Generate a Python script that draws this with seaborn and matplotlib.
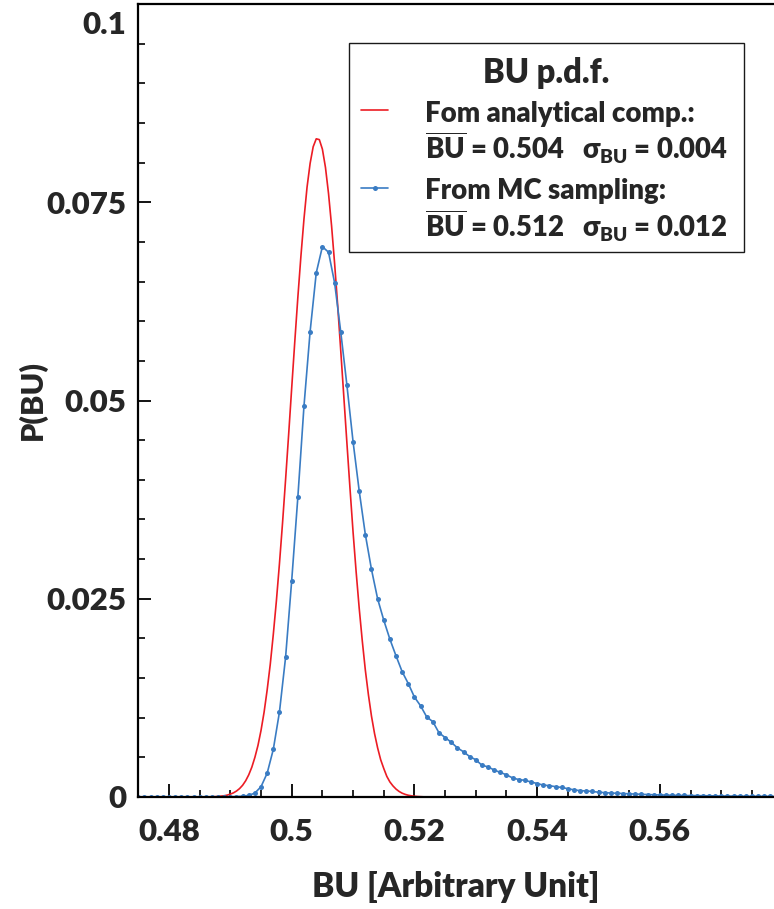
import numpy as np
import pandas as pd
import matplotlib
matplotlib.use("Agg")
import matplotlib.pyplot as plt
import seaborn as sns
from matplotlib.lines import Line2D
from matplotlib.patches import Rectangle
from matplotlib.ticker import FixedLocator, FixedFormatter, MultipleLocator
from matplotlib.transforms import offset_copy

# BU p.d.f. from the analytical computation (red), one value per 0.0005 step starting at 0.486
red_start = 0.486
red_step = 0.0005
red_y = [0.00001, 0.00002, 0.00003, 0.00004, 0.00007, 0.00011, 0.00016, 0.00024, 0.00036, 0.00052,
         0.00075, 0.00106, 0.00148, 0.00205, 0.0028, 0.00376, 0.0050, 0.0065, 0.0084, 0.0107,
         0.0135, 0.0167, 0.0205, 0.0247, 0.0294, 0.0345, 0.0400, 0.0457, 0.0516, 0.0574,
         0.0630, 0.0682, 0.0729, 0.0769, 0.0799, 0.0820, 0.0830, 0.0829, 0.0817, 0.0794,
         0.0761, 0.0720, 0.0672, 0.0619, 0.0562, 0.0504, 0.0446, 0.0389, 0.0334, 0.0284,
         0.0238, 0.0197, 0.0160, 0.0129, 0.0102, 0.0080, 0.0062, 0.0047, 0.0036, 0.0026,
         0.0019, 0.0014, 0.0010, 0.0007, 0.00048, 0.00033, 0.00022, 0.00015, 0.0001, 0.00006,
         0.00004, 0.00002, 0.00001]

# BU p.d.f. from MC sampling (blue), one bin per 0.001 starting at 0.475
blue_start = 0.475
blue_step = 0.001
blue_y = [0, 0, 0, 0, 0, 0, 0, 0, 0, 0, 0, 0, 0, 0,
          0.00002, 0.00003, 0.00005, 0.0001, 0.0002, 0.0005, 0.0013, 0.0030, 0.0060, 0.0107,
          0.0176, 0.0273, 0.0378, 0.0493, 0.0587, 0.0661, 0.0694, 0.0687, 0.0648, 0.0586,
          0.0519, 0.0448, 0.0386, 0.0331, 0.0287, 0.0250, 0.0223, 0.0199, 0.0178, 0.0158,
          0.0143, 0.0126, 0.0115, 0.0101, 0.0095, 0.0081, 0.0075, 0.0069, 0.0062, 0.0057,
          0.0051, 0.0047, 0.0040, 0.0038, 0.0034, 0.0031, 0.0028, 0.0024, 0.0022, 0.0021,
          0.0019, 0.0017, 0.0015, 0.00143, 0.0013, 0.0012, 0.00105, 0.0009, 0.0008, 0.00076,
          0.0007, 0.0006, 0.00055, 0.0005, 0.00047, 0.00044, 0.0004, 0.00037, 0.00034, 0.00031,
          0.00028, 0.00026, 0.00024, 0.00022, 0.0002, 0.00019, 0.00018, 0.00017, 0.00016, 0.00015,
          0.00014, 0.00013, 0.00012, 0.00011, 0.0001, 0.0001, 0.00009, 0.00009, 0.00008, 0.00008,
          0.00007]

x_ticks = [0.48, 0.5, 0.52, 0.54, 0.56]
x_labels = ["0.48", "0.5", "0.52", "0.54", "0.56"]
y_ticks = [0, 0.025, 0.05, 0.075, 0.1]
y_labels = ["0", "0.025", "0.05", "0.075", "0.1"]

legend_title = "BU p.d.f."
legend_lines = ["Fom analytical comp.:",
                r"$\overline{\mathrm{BU}}$ = 0.504   $\sigma_{\mathrm{BU}}$ = 0.004",
                "From MC sampling:",
                r"$\overline{\mathrm{BU}}$ = 0.512   $\sigma_{\mathrm{BU}}$ = 0.012"]

RED = "#ec1c24"
BLUE = "#3a7cc3"

df_red = pd.DataFrame({"BU": np.round(red_start + red_step * np.arange(len(red_y)), 4), "P": red_y})
df_blue = pd.DataFrame({"BU": np.round(blue_start + blue_step * np.arange(len(blue_y)), 3), "P": blue_y})

sns.set_style("ticks")
plt.rcParams["font.family"] = ["Lato", "DejaVu Sans"]
plt.rcParams["font.weight"] = "heavy"
plt.rcParams["mathtext.fontset"] = "custom"
plt.rcParams["mathtext.rm"] = "Lato:heavy"
plt.rcParams["mathtext.it"] = "Lato:heavy"
plt.rcParams["mathtext.bf"] = "Lato:heavy"
plt.rcParams["mathtext.sf"] = "Lato:heavy"

W, H = 774, 909
fig = plt.figure(figsize=(W / 100, H / 100), dpi=100)
ax = fig.add_axes([138 / W, 1 - 797 / H, (W - 138) / W, (797 - 4) / H])

sns.lineplot(data=df_red, x="BU", y="P", ax=ax, color=RED, lw=1.2)
sns.lineplot(data=df_blue, x="BU", y="P", ax=ax, color=BLUE, lw=1.2,
             marker="o", markersize=3.6, markeredgewidth=0)

ax.set_xlim(0.47495, 0.5786)
ax.set_ylim(0, 0.1)

ax.xaxis.set_major_locator(FixedLocator(x_ticks))
ax.xaxis.set_major_formatter(FixedFormatter(x_labels))
ax.xaxis.set_minor_locator(MultipleLocator(0.005))
ax.yaxis.set_major_locator(FixedLocator(y_ticks))
ax.yaxis.set_major_formatter(FixedFormatter(y_labels))
ax.yaxis.set_minor_locator(MultipleLocator(0.005))

ax.tick_params(which="both", direction="in", color="black", top=False, right=False)
ax.tick_params(which="major", length=9.5, width=1.3, labelsize=22.5)
ax.tick_params(which="minor", length=4.8, width=1.2)
ax.tick_params(axis="x", which="major", pad=15)
ax.tick_params(axis="y", which="major", pad=8.5)

for side in ["left", "bottom", "top"]:
    ax.spines[side].set_linewidth(1.6)
    ax.spines[side].set_color("black")
ax.spines["right"].set_visible(False)

ax.set_xlabel("BU [Arbitrary Unit]", fontsize=24, fontweight="heavy")
ax.set_ylabel("P(BU)", fontsize=22, fontweight="heavy")
ax.xaxis.set_label_coords(0.5, -(871 - 797) / 793)
ax.yaxis.set_label_coords(-(138 - 47) / 636, 0.5)

# keep the top label inside the picture
top_lab = ax.yaxis.get_major_ticks()[-1].label1
top_lab.set_transform(offset_copy(top_lab.get_transform(), fig=fig, y=-19, units="dots"))


def fx(px):
    return px / W


def fy(py):
    return 1 - py / H


# legend box drawn by hand
fig.add_artist(Rectangle((fx(349), fy(252)), (744 - 349) / W, (252 - 43) / H,
                         transform=fig.transFigure, facecolor="white",
                         edgecolor="#1a1a1a", lw=1.0))
fig.text(fx(546), fy(83.3), legend_title, ha="center", va="baseline",
         fontsize=23.5, fontweight="heavy")
for txt, base in zip(legend_lines, [121.7, 159.3, 199.3, 237.3]):
    fig.text(fx(425), fy(base), txt, ha="left", va="baseline", fontsize=19.8, fontweight="heavy")
fig.add_artist(Line2D([fx(361), fx(388)], [fy(110), fy(110)], color=RED, lw=1.2,
                      transform=fig.transFigure))
fig.add_artist(Line2D([fx(361), fx(374.5), fx(388)], [fy(187.7)] * 3, color=BLUE, lw=1.2,
                      marker="o", markersize=3.6, markeredgewidth=0, markevery=[1],
                      transform=fig.transFigure))

fig.savefig("out.png", dpi=100)
